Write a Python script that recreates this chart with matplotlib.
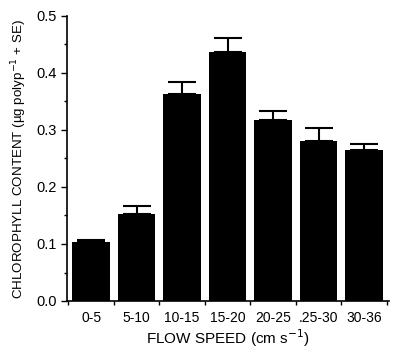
import matplotlib
matplotlib.use("Agg")
import matplotlib.pyplot as plt
from matplotlib.ticker import MultipleLocator, FixedLocator

categories = ["0-5", "5-10", "10-15", "15-20", "20-25", ".25-30", "30-36"]
values = [0.103, 0.152, 0.364, 0.436, 0.318, 0.281, 0.265]
errors = [0.004, 0.015, 0.020, 0.026, 0.015, 0.022, 0.010]

plt.rcParams['font.family'] = ['Liberation Sans', 'DejaVu Sans']
fig = plt.figure(figsize=(4.0, 3.53), dpi=100)
ax = fig.add_axes([67/400, 1-301/353, (389-67)/400, (301-16)/353])

x = list(range(len(categories)))
ax.bar(x, values, width=0.83, color='black', zorder=2)
ax.errorbar(x, values, yerr=[[0]*len(errors), errors], fmt='none', ecolor='black',
            elinewidth=1.5, capsize=10, capthick=1.5, zorder=3)

ax.set_xlim(-0.53, 6.55)
ax.set_ylim(0, 0.5)
ax.yaxis.set_minor_locator(MultipleLocator(0.05))
ax.set_yticks([0, 0.1, 0.2, 0.3, 0.4, 0.5])
ax.set_yticklabels(["0.0", "0.1", "0.2", "0.3", "0.4", "0.5"])
ax.set_xticks(x)
ax.set_xticklabels(categories)
ax.xaxis.set_minor_locator(FixedLocator([i - 0.5 for i in range(len(categories) + 1)]))
ax.tick_params(axis='x', which='major', length=0, pad=7, labelsize=10)
ax.tick_params(axis='x', which='minor', length=3, width=1)
ax.tick_params(axis='y', which='major', length=4, width=1, labelsize=10.5)
ax.tick_params(axis='y', which='minor', length=2, width=1)
for s in ['top', 'right']:
    ax.spines[s].set_visible(False)
for s in ['left', 'bottom']:
    ax.spines[s].set_linewidth(1.2)

ax.set_xlabel("FLOW SPEED (cm s$^{-1}$)", fontsize=11, labelpad=2)
ax.set_ylabel("CHLOROPHYLL CONTENT (µg polyp$^{-1}$ + SE)", fontsize=9.6, labelpad=5)

fig.savefig("out.png", dpi=100)
